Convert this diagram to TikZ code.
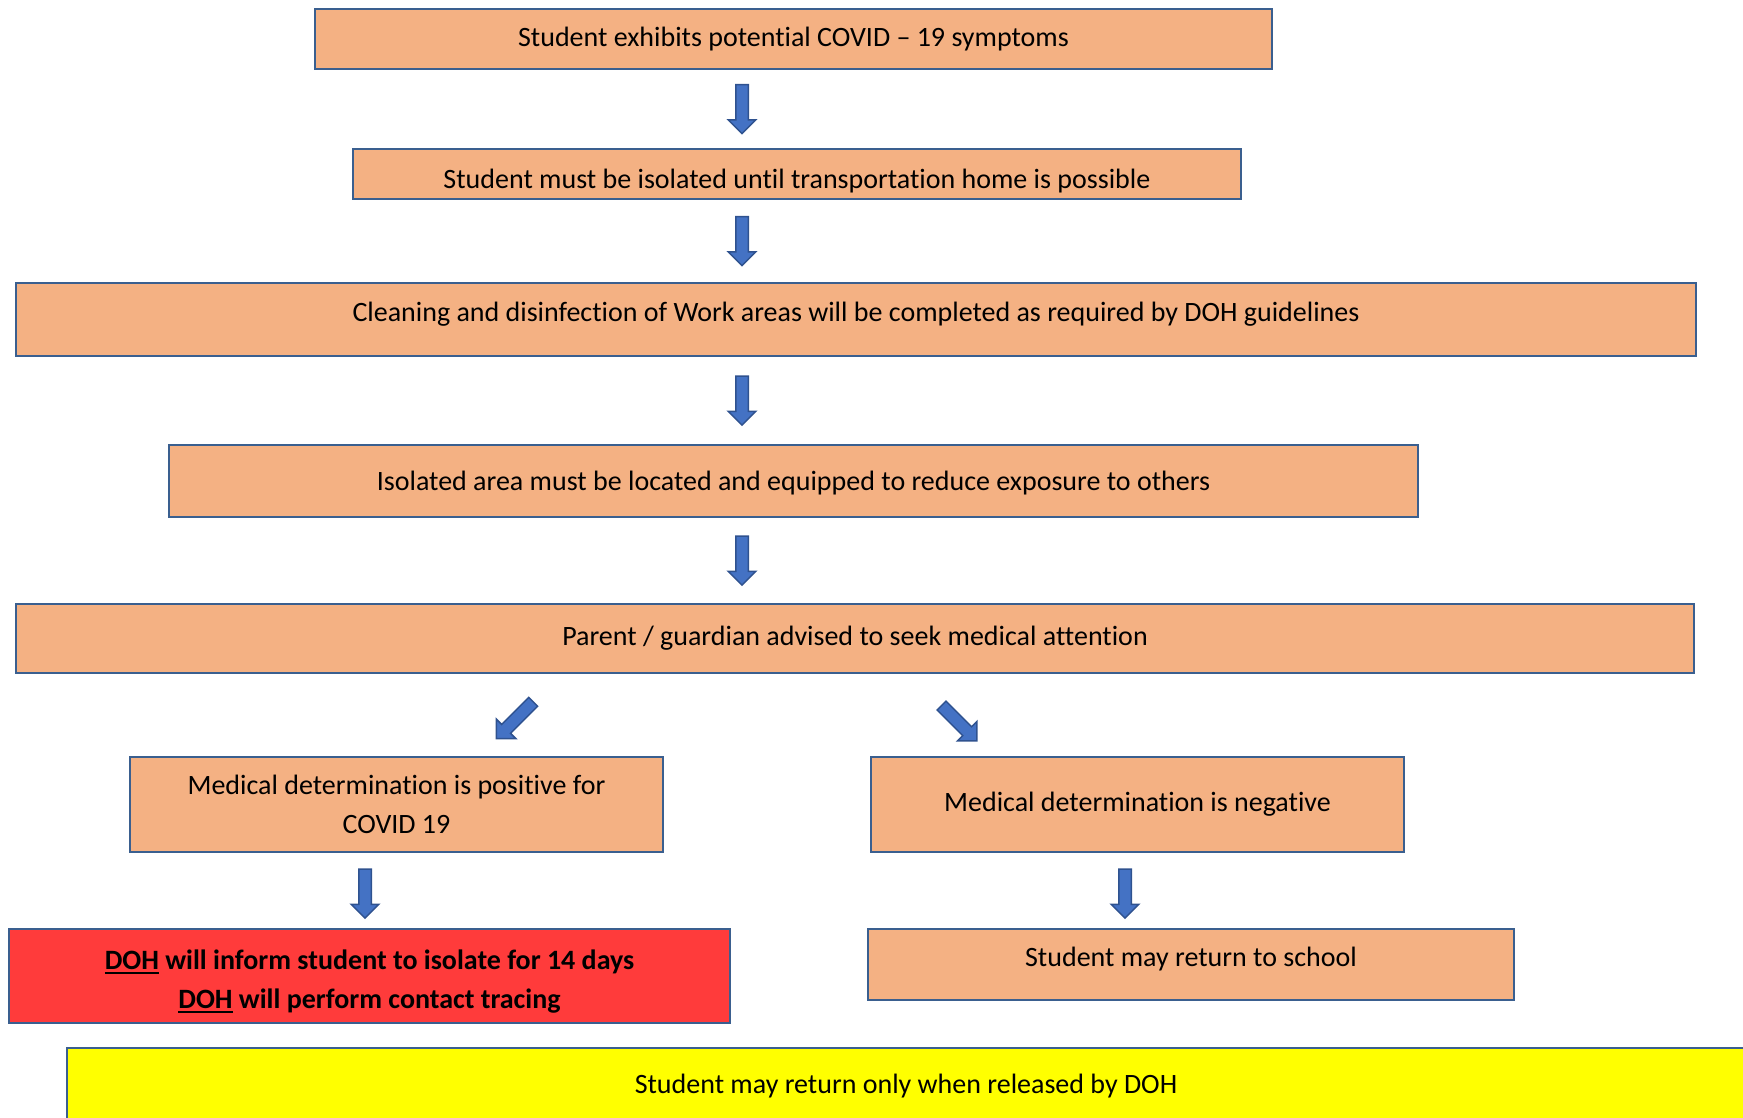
\documentclass[tikz,border=0pt]{standalone}
\usepackage{fontspec}
\setmainfont{Carlito}[Ligatures={TeX,NoCommon}]
\usepackage{xcolor}
\usepackage{tikz}
\usetikzlibrary{shapes.arrows}
\usetikzlibrary{calc,positioning}

\definecolor{boxfill}{HTML}{F4B183}
\definecolor{boxedge}{HTML}{3A5F8F}
\definecolor{redfill}{HTML}{FF3B3B}
\definecolor{yellowfill}{HTML}{FFFF00}
\definecolor{arrowblue}{HTML}{4472C4}
\definecolor{arrowedge}{HTML}{2F528F}

\newsavebox{\ulbox}
\newcommand{\dohul}[1]{\sbox{\ulbox}{#1}\rlap{\rule[-4.5pt]{\wd\ulbox}{2.5pt}}\usebox{\ulbox}}

\begin{document}
\begin{tikzpicture}[x=1pt,y=-1pt,
    stepbox/.style={draw=boxedge, fill=boxfill, line width=2.5pt, inner sep=0pt,
        align=center, font=\fontsize{28pt}{39pt}\selectfont},
    blkarrow/.style={single arrow, draw=arrowedge, fill=arrowblue, line width=1.5pt,
        inner xsep=0pt, inner ysep=5.5pt, minimum width=0pt, minimum height=49pt,
        single arrow head extend=7.5pt, single arrow tip angle=90}]

    % Page
    \useasboundingbox (0,0) rectangle (1743,1118);
    \clip (0,0) rectangle (1743,1118);

    % Arrow axes
    \coordinate (axis) at (742,0);
    \coordinate (axl) at (365,0);
    \coordinate (axr) at (1125,0);

    % Main column
    \node[stepbox, minimum width=957pt, minimum height=60pt] (sym) at (793.5,39)
        {Student exhibits potential COVID – 19 symptoms};
    \node[stepbox, minimum width=888pt, minimum height=50pt, text height=35pt, text depth=6pt] (iso) at (797,174)
        {Student must be isolated until transportation home is possible};
    \node[stepbox, minimum width=1680pt, minimum height=73pt, text height=20pt, text depth=16pt] (clean) at (856,319.5)
        {Cleaning and disinfection of Work areas will be completed as required by DOH guidelines};
    \node[stepbox, minimum width=1249pt, minimum height=72pt, text height=25pt, text depth=6pt] (area) at (793.5,481)
        {Isolated area must be located and equipped to reduce exposure to others};
    \node[stepbox, minimum width=1678pt, minimum height=69pt] (adv) at (855,638.5)
        {Parent / guardian advised to seek medical attention};

    % Two outcomes
    \node[stepbox, minimum width=533pt, minimum height=95pt] (pos) at (396.5,804.5)
        {Medical determination is positive for\\COVID 19};
    \node[stepbox, minimum width=533pt, minimum height=95pt] (neg) at (1137.5,804.5)
        {Medical determination is negative};
    \node[stepbox, fill=redfill, minimum width=721pt, minimum height=94pt, font=\fontsize{28pt}{39pt}\selectfont\bfseries] (doh) at (369.5,976)
        {\rule{0pt}{31pt}\dohul{DOH} will inform student to isolate for 14 days\\\dohul{DOH} will perform contact tracing};
    \node[stepbox, minimum width=646pt, minimum height=71pt, text height=20pt, text depth=16pt] (back) at (1191,964.5)
        {Student may return to school};

    % Release
    \node[stepbox, fill=yellowfill, minimum width=1678pt, minimum height=72pt, text height=24pt, text depth=6pt] (rel) at (906,1084)
        {Student may return only when released by DOH};

    % Arrows
    \node[blkarrow, rotate=-90] (a1) at ($(sym.south -| axis)!.5!(iso.north -| axis) + (0,-3)$) {};
    \node[blkarrow, rotate=-90] (a2) at ($(iso.south -| axis)!.5!(clean.north -| axis) + (0,-3)$) {};
    \node[blkarrow, rotate=-90] (a3) at ($(clean.south -| axis)!.5!(area.north -| axis) + (0,-3)$) {};
    \node[blkarrow, rotate=-90] (a4) at ($(area.south -| axis)!.5!(adv.north -| axis) + (0,-3)$) {};
    \node[blkarrow, rotate=-135, minimum height=52pt] (dl) at (517,718) {};
    \node[blkarrow, rotate=-45, minimum height=50pt] (dr) at (957,721) {};
    \node[blkarrow, rotate=-90] (a5) at ($(pos.south -| axl)!.5!(doh.north -| axl)$) {};
    \node[blkarrow, rotate=-90] (a6) at ($(neg.south -| axr)!.5!(back.north -| axr)$) {};

\end{tikzpicture}
\end{document}
